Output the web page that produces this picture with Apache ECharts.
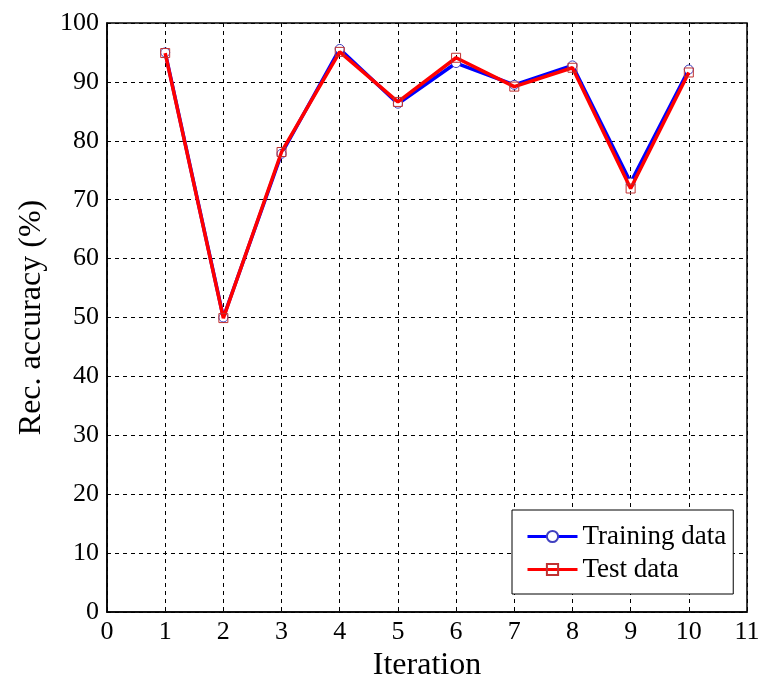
<!DOCTYPE html>
<html>
<head>
<meta charset="utf-8">
<script src="https://cdn.jsdelivr.net/npm/echarts@6/dist/echarts.min.js"></script>
<style>html,body{margin:0;padding:0;background:#fff}#c{width:782px;height:699px}</style>
</head>
<body>
<div id="c"></div>
<script>
var iterations = [1, 2, 3, 4, 5, 6, 7, 8, 9, 10];
var trainingData = [95.0, 50.0, 77.8, 95.6, 86.3, 93.2, 89.5, 92.8, 72.9, 92.1];
var testData = [94.9, 49.9, 78.1, 95.1, 86.6, 94.1, 89.2, 92.4, 71.9, 91.6];
var seriesNames = ['Training data', 'Test data'];

var font = '"Liberation Serif", "Times New Roman", serif';
function pairs(xs, ys) { return xs.map(function (x, i) { return [x, ys[i]]; }); }

var chart = echarts.init(document.getElementById('c'));
chart.setOption({
  animation: false,
  backgroundColor: '#fff',
  grid: { left: 107, right: 35, top: 23, bottom: 87, show: true, borderColor: '#000', borderWidth: 1.5, backgroundColor: 'transparent' },
  xAxis: {
    type: 'value', min: 0, max: 11, interval: 1,
    name: 'Iteration', nameLocation: 'middle', nameGap: 34,
    nameTextStyle: { fontFamily: font, fontSize: 32, color: '#000' },
    axisLine: { show: true, lineStyle: { color: '#000', width: 1.5 } },
    axisTick: { show: false },
    axisLabel: { fontFamily: font, fontSize: 26, color: '#000', margin: 7 },
    splitLine: { show: true, lineStyle: { color: '#000', type: [4, 4], width: 1 } }
  },
  yAxis: {
    type: 'value', min: 0, max: 100, interval: 10,
    name: 'Rec. accuracy (%)', nameLocation: 'middle', nameGap: 59,
    nameTextStyle: { fontFamily: font, fontSize: 32, color: '#000' },
    axisLine: { show: true, lineStyle: { color: '#000', width: 1.5 } },
    axisTick: { show: false },
    axisLabel: { fontFamily: font, fontSize: 26, color: '#000', margin: 8 },
    splitLine: { show: true, lineStyle: { color: '#000', type: [4, 4], width: 1 } }
  },
  legend: {
    orient: 'vertical', left: 512, top: 510,
    backgroundColor: '#fff', borderColor: '#000', borderWidth: 1,
    padding: [13, 7, 11, 14], itemGap: 6, itemWidth: 50, itemHeight: 14,
    lineStyle: { width: 3 },
    textStyle: { fontFamily: font, fontSize: 27, color: '#000' },
    data: seriesNames
  },
  series: [
    {
      name: seriesNames[0], type: 'line', data: pairs(iterations, trainingData),
      symbol: 'circle', symbolSize: 9,
      lineStyle: { color: '#0000ff', width: 3.5 },
      itemStyle: { color: '#fff', borderColor: '#4040c0', borderWidth: 1 },
      z: 2
    },
    {
      name: seriesNames[1], type: 'line', data: pairs(iterations, testData),
      symbol: 'rect', symbolSize: 9,
      lineStyle: { color: '#ff0000', width: 3.5 },
      itemStyle: { color: 'rgba(255,255,255,0)', borderColor: '#c03030', borderWidth: 1 },
      z: 3
    }
  ]
});
</script>
</body>
</html>
